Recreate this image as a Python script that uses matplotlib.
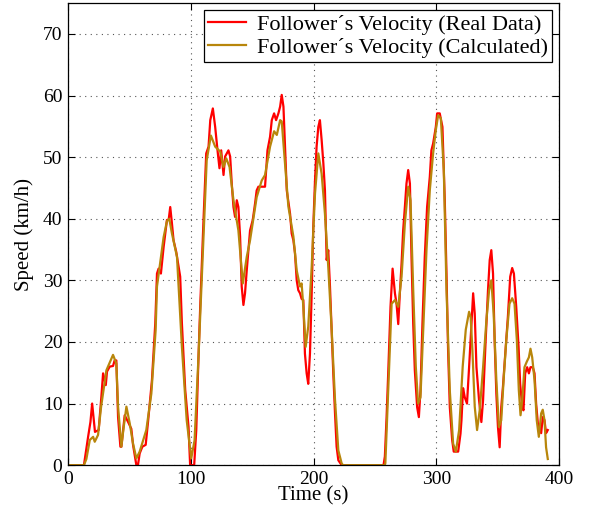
import numpy as np
import matplotlib
matplotlib.use("Agg")
import matplotlib.pyplot as plt

# follower velocity, real data
real_t = [0, 13, 16.4, 18.3, 19.7, 21, 22, 25, 27.2, 28.6, 30.8, 31.8, 34, 36.7, 38, 39.4,
          40.8, 42.7, 43.5, 44.9, 46.2, 49, 51.6, 53, 55.7, 57, 58.4, 60.6, 63.3, 65.2, 68.4,
          71.1, 72.5, 73.8, 75.7, 77.9, 80.6, 82, 83.3, 84.7, 86, 88.2, 91.4, 92.8, 95.5, 98.2,
          99.5, 102.8, 104.5, 106.4, 107.7, 110.4, 112.6, 114.5, 115.9, 118, 119.9, 121.8,
          123.4, 124.8, 126.7, 128, 130.7, 132.1, 133.4, 134.8, 136.1, 137.5, 138.8, 140.2,
          141.5, 142.9, 144.2, 145.6, 147, 148.3, 150.5, 152.4, 153.7, 155.1, 160.5, 162.5,
          164.6, 166, 167.9, 169.5, 171.4, 172.8, 174.1, 175.5, 176.8, 178.2, 180.9, 182.2,
          183.6, 184.9, 186.3, 187.6, 189, 190.3, 191.7, 193, 194.4, 195.7, 197.1, 198.5,
          199.8, 201.2, 202.5, 203.9, 205.2, 206.6, 208, 209.3, 210.7, 212, 213.4, 216.1,
          217.5, 218.8, 220.2, 222.9, 257, 258.1, 259.5, 260.8, 262.7, 264.4, 266.3, 267.6,
          269, 270.3, 271.7, 273, 274.4, 275.7, 277.1, 278.5, 279.8, 281.2, 282.5, 284.4,
          285.8, 287.1, 288.7, 290.6, 292.5, 294.7, 296, 297.4, 299.6, 300.7, 302.8, 305,
          306.9, 308.3, 309.6, 311, 312.9, 314.2, 317.8, 319.7, 320.5, 321.8, 323.2, 325,
          326.7, 328.6, 330, 331.3, 332.7, 334.8, 336.7, 338.1, 340.2, 342.1, 343.5, 344.8,
          346.2, 347.5, 348.9, 350.2, 351.6, 352.9, 354.3, 356.4, 358.3, 360.2, 361.8, 363.2,
          365.1, 367, 368.3, 370, 371, 372.4, 374, 375.4, 376.7, 378.6, 380, 381.3, 382.7,
          384, 385.4, 386.7, 388.1, 389.4, 390.8]
real_v = [0, 0, 4.6, 7.0, 10.0, 7.3, 5.4, 5.7, 11.1, 14.9, 13.0, 15.2, 16.0, 16.1, 17.0, 17.0,
          7.8, 3.0, 3.0, 5.7, 8.1, 7.0, 5.9, 3.3, 0, 0, 1.9, 3.0, 3.3, 7.0, 13.8,
          23.0, 31.1, 31.9, 31.1, 35.4, 39.8, 39.8, 41.9, 39.2, 36.5, 34.6, 30.6, 23, 12.2, 6.2,
          0, 0, 5.7, 18.1, 25.7, 39.8, 50.6, 51.7, 56, 57.9, 54.9, 51.1,
          48.2, 51.1, 47.1, 50.1, 51.1, 50.1, 45.7, 41.9, 40.3, 43, 41.9, 37.1,
          29, 26, 27.9, 31.6, 34.9, 38.1, 39.8, 42.5, 44.6, 45.2, 45.2, 51.1,
          53.3, 56, 57.1, 56, 57.1, 58.2, 60.1, 58.2, 51.7, 44.6, 40.8, 37.6,
          36.5, 34.4, 30, 28.4, 27.9, 27, 26.8, 18.1, 14.9, 13.2, 18.1, 27.9,
          38.7, 46.2, 51.7, 54.9, 56, 52.8, 49, 44.6, 33.3, 34.9, 29, 14.9,
          8.4, 3, 0.8, 0, 0, 1.4, 7.8, 14.8, 25.7, 31.9, 27.9, 26.2,
          22.9, 27.9, 32.7, 38.1, 41.9, 45.7, 47.9, 45.7, 33.8, 22.9, 15.4, 9.4,
          7.8, 12.1, 22.9, 33.8, 41.9, 46.8, 51.1, 52.2, 54.9, 57.1, 57.1, 54.9,
          43, 31.1, 18.6, 9.4, 4.1, 2.2, 2.2, 5.1, 7.3, 12.5, 11, 10,
          15.9, 23, 27.9, 24.6, 15.9, 10.6, 7, 10.6, 20.3, 28.4, 33.3, 34.9,
          31.1, 20.3, 11.6, 6.2, 2.9, 9.4, 12.8, 18.7, 24.1, 30.6, 32, 31.1,
          25.7, 19.2, 13.2, 9.4, 8.9, 14.9, 15.9, 14.9, 15.9, 15.9, 14.9, 10, 6.8,
          6.2, 5.2, 7.8, 7.3, 5.2, 5.7]

# follower velocity, calculated
calc_t = [0, 13, 15, 17.8, 20.5, 21.8, 24.5, 27, 31.3, 36.7, 39.4, 40.8, 43.5, 45.4, 47.6,
          50.3, 53, 55.7, 58.4, 63.8, 67.9, 71.4, 72.5, 77.9, 80.6, 82.5, 84.7, 88.8, 92.8,
          96.7, 100.4, 103.1, 106.4, 113, 116.4, 119.9, 124, 126.7, 128.9, 131.6, 134.8,
          138.8, 142.4, 145.6, 148.3, 153.7, 157.8, 160.5, 164.6, 167.9, 170.1, 172.8, 174.1,
          176.8, 179.5, 183.6, 186.3, 189, 190.3, 191.7, 193.6, 195.7, 198.5, 201.2, 203.9,
          206.6, 209.3, 212, 214.8, 217.5, 220.2, 222.9, 224, 258, 258.5, 260.8, 263.6, 266.3,
          269, 271.7, 274.4, 277.1, 279, 281.2, 283.3, 285.2, 287.1, 289.3, 292, 294.7, 297.4,
          299.6, 301.5, 303.7, 306.1, 308.3, 311, 313.7, 315.9, 318.6, 321.5, 324, 326.7, 328,
          329.4, 331.3, 333.2, 335.4, 338.1, 340.8, 343, 344.8, 346.7, 348.9, 351, 352.9,
          354.8, 357, 359.6, 361.8, 363.7, 365.6, 367.2, 368.6, 370, 371.8, 373.7, 375.4,
          376.7, 378.1, 380, 381.8, 383.5, 385.4, 386.7, 388.1, 389.4, 390.8]
calc_v = [0, 0, 1.0, 4.1, 4.6, 3.8, 4.9, 9.5, 15.4, 17.9, 16.5, 9.5, 3.0, 6.2, 9.5,
          6.8, 3.5, 1.1, 2.2, 5.7, 11.6, 21.9, 29, 37, 39.6, 40, 37.6, 33.8, 19.2,
          7.3, 1.1, 4.0, 18, 49.5, 53.5, 51.7, 50.9, 48.4, 49.8, 48.4, 43,
          38.1, 29.5, 33.8, 36.5, 43.5, 46.2, 47.1, 51.7, 54.2, 53.6, 56, 55.8,
          49, 42, 37.1, 31.6, 29, 29.5, 25.7, 19.2, 22.5, 32.2, 44.1, 50.6,
          47.3, 40.8, 32.2, 21.9, 10.6, 2.4, 0.3, 0, 0, 0.3, 12.1, 26.2, 26.8,
          25.7, 30.6, 39.2, 45.2, 43, 28.4, 16, 10, 11, 21.9, 34.9, 44.6, 50.6,
          54.4, 56.8, 56.3, 47.9, 28.4, 12.1, 3.5, 2.2, 5.7, 16, 22, 24.9, 24,
          18.7, 9.5, 5.7, 9, 15.9, 23.5, 28.4, 30, 24.6, 13.8, 6.2, 7.3,
          13.8, 20.3, 26.2, 27.1, 26.2, 20.3, 12.2, 8.1, 10.6, 15.9, 16.8, 17.5,
          18.9, 17.5, 13.8, 7.3, 4.6, 8.4, 9, 7.3, 2.9, 1.0]

x_ticks = [0, 100, 200, 300, 400]
y_ticks = [0, 10, 20, 30, 40, 50, 60, 70]

plt.rcParams['font.family'] = ['Liberation Serif', 'DejaVu Serif']

fig = plt.figure(figsize=(5.91, 5.18), dpi=100)
ax = fig.add_axes([0.115, 0.102, 0.831, 0.892])

ax.plot(real_t, real_v, color='#ff0000', lw=1.6, label='Follower\u00b4s Velocity (Real Data)')
ax.plot(calc_t, calc_v, color='#b8860b', lw=1.6, label='Follower\u00b4s Velocity (Calculated)')

ax.set_xlim(0, 400)
ax.set_ylim(0, 75)
ax.set_xticks(x_ticks)
ax.set_yticks(y_ticks)
ax.tick_params(direction='in', top=True, right=True, labelsize=14, length=5, width=0.8, pad=4)
ax.grid(True, linestyle=(0, (1, 4)), color='#555555', linewidth=0.8)
for s in ax.spines.values():
    s.set_linewidth(0.9)

ax.set_xlabel('Time (s)', fontsize=15, labelpad=-1)
ax.set_ylabel('Speed (km/h)', fontsize=15, labelpad=6)

leg = ax.legend(loc='upper right', fontsize=16, fancybox=False, framealpha=1,
                edgecolor='black', handlelength=1.7, borderpad=0.2, labelspacing=0.12,
                handletextpad=0.5, borderaxespad=0.3)
leg.get_frame().set_linewidth(0.9)

fig.savefig('out.png', dpi=100)
